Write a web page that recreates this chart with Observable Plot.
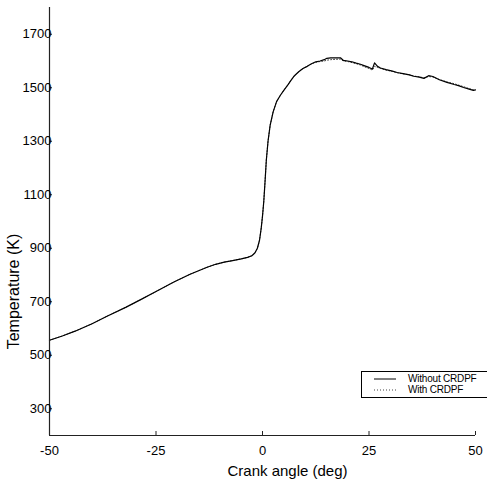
<!DOCTYPE html>
<html><head><meta charset="utf-8">
<script src="https://cdn.jsdelivr.net/npm/d3@7"></script>
<script src="https://cdn.jsdelivr.net/npm/@observablehq/plot@0.6"></script>
<style>
body{margin:0;background:#fff;width:487px;height:492px;overflow:hidden;position:relative;font-family:"Liberation Sans",Arial,sans-serif;}
#legend{position:absolute;left:361px;top:371px;width:134px;height:25px;border:1px solid #000;background:#fff;font-size:10px;line-height:11px;color:#000;}
#legend .row{position:absolute;left:0;height:11px;width:134px;white-space:nowrap;}
#legend svg{position:absolute;left:12px;top:0;}
#legend span{position:absolute;left:46px;top:0;letter-spacing:-0.2px;}
</style></head><body>
<div id="chart"></div>
<div id="legend"></div>
<script>
const seriesNames = ["Without CRDPF", "With CRDPF"];
const xTicks = [-50, -25, 0, 25, 50];
const yTicks = [300, 500, 700, 900, 1100, 1300, 1500, 1700];
const angle = [-50,-47,-44,-40,-36.5,-32,-28.6,-25,-20.8,-17,-13,-11,-9,-7,-5,-3.5,-2.5,-1.8,-1.2,-0.7,-0.3,0,0.3,0.6,0.9,1.3,1.8,2.5,3.3,4.2,5.0,6.0,6.6,7.5,8.5,9.5,10.5,11.5,12.5,13.5,14.5,15.1,16,17,18.3,19,20,21,22,23,24,25,25.8,26.3,27,27.7,29,30.5,31.6,33,34.5,35.5,36.8,37.9,39,40,41.5,43.3,45,46,47.2,48.5,49.5,50];
const tempWithout = [556,572,590,618,646,680,708,738,774,803,829,840,848,854,860,866,872,882,900,930,975,1020,1075,1150,1230,1300,1360,1410,1448,1472,1490,1512,1526,1545,1560,1572,1580,1590,1597,1600,1605,1610,1612,1612,1612,1602,1600,1597,1592,1588,1582,1576,1570,1593,1580,1574,1568,1562,1557,1553,1548,1543,1540,1535,1545,1542,1530,1520,1512,1508,1501,1495,1490,1492];
const tempWith = [556,572,590,618,646,680,708,738,774,803,829,840,848,854,860,866,872,882,900,930,975,1020,1075,1150,1230,1300,1360,1410,1448,1472,1490,1512,1526,1545,1560,1572,1580,1589,1595,1598,1600,1603,1605,1606,1607,1600,1598,1594,1590,1585,1578,1572,1566,1580,1576,1572,1566,1561,1556,1552,1548,1544,1541,1537,1542,1540,1531,1522,1515,1510,1504,1497,1492,1492];

const rows = [];
angle.forEach((a, i) => {
  rows.push({series: seriesNames[0], angle: a, temp: tempWithout[i]});
  rows.push({series: seriesNames[1], angle: a, temp: tempWith[i]});
});
const withoutRows = rows.filter(d => d.series === seriesNames[0]);
const withRows = rows.filter(d => d.series === seriesNames[1]);

const W = 487, H = 492, mL = 49, mR = 12, mT = 7, mB = 57;
const font = '"Liberation Sans", Arial, sans-serif';
const fmt = d => String(d);
const chart = Plot.plot({
  width: W,
  height: H,
  marginLeft: mL,
  marginRight: mR,
  marginTop: mT,
  marginBottom: mB,
  style: {fontFamily: font, fontSize: "13px", background: "#fff", color: "#000"},
  x: {domain: [-50, 50]},
  y: {domain: [200, 1800]},
  marks: [
    Plot.line(withRows, {x: "angle", y: "temp", stroke: "#444", strokeWidth: 1, strokeDasharray: "1,2"}),
    Plot.line(withoutRows, {x: "angle", y: "temp", stroke: "#000", strokeWidth: 1.2}),
    Plot.ruleX([-50], {stroke: "#222", strokeWidth: 1.2}),
    Plot.ruleY([200], {stroke: "#222", strokeWidth: 1.2}),
    Plot.tickY(yTicks, {y: d => d, stroke: "#222", insetRight: W - mL - mR - 3}),
    Plot.tickX(xTicks, {x: d => d, stroke: "#222", insetTop: H - mT - mB - 4}),
    Plot.axisY({ticks: yTicks, tickSize: 0, tickPadding: -2, tickFormat: fmt, label: null, fontSize: 13}),
    Plot.axisX({ticks: xTicks, tickSize: 0, tickPadding: 10, tickFormat: fmt, label: null, fontSize: 13}),
    Plot.text(["Crank angle (deg)"], {frameAnchor: "bottom", textAnchor: "middle", lineAnchor: "middle", dx: 25, dy: 36, fontSize: 15}),
    Plot.text(["Temperature (K)"], {frameAnchor: "left", textAnchor: "middle", lineAnchor: "middle", rotate: -90, dx: -36, dy: 70, fontSize: 16})
  ]
});
document.getElementById("chart").appendChild(chart);

const legend = document.getElementById("legend");
seriesNames.forEach((name, i) => {
  const row = document.createElement("div");
  row.className = "row";
  row.style.top = (1 + i * 11) + "px";
  row.innerHTML = `<svg width="22" height="11"><line x1="0" x2="22" y1="6" y2="6" stroke="${i ? '#444' : '#000'}" stroke-width="1" ${i ? 'stroke-dasharray="1,2"' : ''}/></svg><span>${name}</span>`;
  legend.appendChild(row);
});
</script>
</body></html>
